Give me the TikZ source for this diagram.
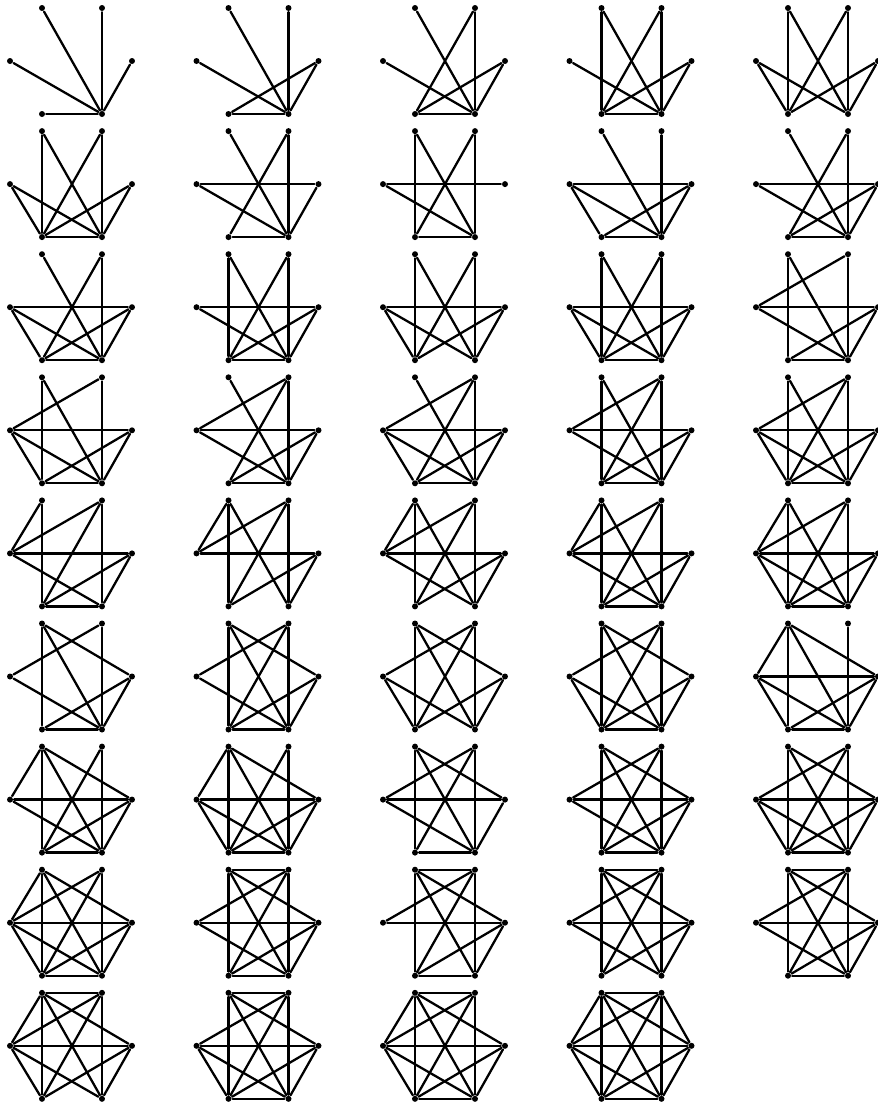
\documentclass[tikz,border=0pt]{standalone}
\begin{document}
\begin{tikzpicture}[x=0.02cm,y=-0.02cm,line width=1.3pt,line cap=round,line join=round,
  vtx/.style={circle,fill,inner sep=0pt,minimum size=0.12cm}]
\useasboundingbox (0,0) rectangle (878,1107);
\foreach \g/\edges in {
  1/{tl/br,tr/br,ml/br,mr/br,bl/br},
  2/{tl/br,tr/br,ml/br,mr/br,bl/br,mr/bl},
  3/{tl/br,tr/br,tr/bl,ml/br,mr/bl,mr/br,bl/br},
  4/{tl/bl,tl/br,tr/bl,tr/br,ml/br,mr/bl,mr/br,bl/br},
  5/{tl/bl,tl/br,tr/bl,tr/br,ml/bl,ml/br,mr/bl,mr/br},
  6/{tl/bl,tl/br,tr/bl,tr/br,ml/bl,ml/br,mr/bl,mr/br,bl/br},
  7/{tl/br,tr/bl,tr/br,ml/mr,ml/br,mr/br,bl/br},
  8/{tl/bl,tl/br,tr/bl,tr/br,ml/mr,ml/br,bl/br},
  9/{tl/br,tr/br,ml/mr,ml/bl,ml/br,mr/bl,mr/br,bl/br},
  10/{tl/br,tr/bl,tr/br,ml/mr,ml/br,mr/bl,mr/br,bl/br},
  11/{tl/br,tr/bl,tr/br,ml/mr,ml/bl,ml/br,mr/bl,mr/br,bl/br},
  12/{tl/bl,tl/br,tr/bl,tr/br,ml/mr,ml/br,mr/bl,mr/br,bl/br},
  13/{tl/bl,tl/br,tr/bl,tr/br,ml/mr,ml/bl,ml/br,mr/bl,mr/br},
  14/{tl/bl,tl/br,tr/bl,tr/br,ml/mr,ml/bl,ml/br,mr/bl,mr/br,bl/br},
  15/{tl/bl,tl/br,tr/ml,tr/br,ml/mr,ml/br,mr/bl,mr/br,bl/br},
  16/{tl/bl,tl/br,tr/ml,tr/br,ml/mr,ml/bl,ml/br,mr/bl,mr/br,bl/br},
  17/{tl/br,tr/ml,tr/bl,tr/br,ml/mr,ml/br,mr/bl,mr/br,bl/br},
  18/{tl/br,tr/ml,tr/bl,tr/br,ml/mr,ml/bl,ml/br,mr/bl,mr/br,bl/br},
  19/{tl/bl,tl/br,tr/ml,tr/bl,tr/br,ml/mr,ml/br,mr/bl,mr/br,bl/br},
  20/{tl/bl,tl/br,tr/ml,tr/bl,tr/br,ml/mr,ml/bl,ml/br,mr/bl,mr/br,bl/br},
  21/{tl/ml,tl/bl,tr/ml,tr/bl,tr/br,ml/mr,ml/br,mr/bl,mr/br,bl/br},
  22/{tl/ml,tl/bl,tl/br,tr/ml,tr/bl,tr/br,ml/mr,mr/bl,mr/br},
  23/{tl/ml,tl/bl,tl/br,tr/ml,tr/bl,tr/br,ml/mr,ml/br,mr/bl,mr/br},
  24/{tl/ml,tl/bl,tl/br,tr/ml,tr/bl,tr/br,ml/mr,ml/br,mr/bl,mr/br,bl/br},
  25/{tl/ml,tl/bl,tl/br,tr/ml,tr/bl,tr/br,ml/mr,ml/bl,ml/br,mr/bl,mr/br,bl/br},
  26/{tl/bl,tl/br,tl/mr,tr/ml,tr/br,ml/br,mr/bl,mr/br,bl/br},
  27/{tl/bl,tl/br,tl/mr,tr/ml,tr/bl,tr/br,ml/br,mr/bl,mr/br,bl/br},
  28/{tl/bl,tl/br,tl/mr,tr/ml,tr/bl,tr/br,ml/bl,ml/br,mr/bl,mr/br},
  29/{tl/bl,tl/br,tl/mr,tr/ml,tr/bl,tr/br,ml/bl,ml/br,mr/bl,mr/br,bl/br},
  30/{tl/ml,tl/bl,tl/br,tl/mr,tr/br,ml/mr,ml/bl,ml/br,mr/bl,mr/br,bl/br},
  31/{tl/ml,tl/bl,tl/br,tl/mr,tr/bl,tr/br,ml/mr,ml/br,mr/bl,mr/br,bl/br},
  32/{tl/ml,tl/bl,tl/br,tl/mr,tr/bl,tr/br,ml/mr,ml/bl,ml/br,mr/bl,mr/br,bl/br},
  33/{tl/bl,tl/br,tl/mr,tr/ml,tr/bl,tr/br,ml/mr,ml/br,mr/br,bl/br},
  34/{tl/bl,tl/br,tl/mr,tr/ml,tr/bl,tr/br,ml/mr,ml/br,mr/bl,mr/br,bl/br},
  35/{tl/bl,tl/br,tl/mr,tr/ml,tr/bl,tr/br,ml/mr,ml/bl,ml/br,mr/bl,mr/br,bl/br},
  36/{tl/ml,tl/bl,tl/br,tl/mr,tr/ml,tr/bl,tr/br,ml/mr,ml/bl,ml/br,mr/bl,mr/br,bl/br},
  37/{tl/tr,tl/bl,tl/br,tl/mr,tr/ml,tr/bl,tr/br,ml/mr,ml/br,mr/bl,mr/br,bl/br},
  38/{tl/tr,tl/bl,tl/br,tl/mr,tr/ml,tr/bl,tr/br,ml/mr,mr/bl,mr/br,bl/br},
  39/{tl/tr,tl/bl,tl/br,tl/mr,tr/ml,tr/bl,tr/br,ml/mr,ml/br,mr/bl,mr/br},
  40/{tl/tr,tl/bl,tl/br,tl/mr,tr/ml,tr/bl,tr/br,ml/mr,ml/br,mr/bl,mr/br,bl/br},
  41/{tl/tr,tl/ml,tl/bl,tl/br,tl/mr,tr/ml,tr/bl,tr/br,ml/mr,ml/bl,ml/br,mr/bl,mr/br},
  42/{tl/tr,tl/bl,tl/br,tl/mr,tr/ml,tr/bl,tr/br,ml/mr,ml/bl,ml/br,mr/bl,mr/br,bl/br},
  43/{tl/tr,tl/ml,tl/bl,tl/br,tl/mr,tr/ml,tr/bl,tr/br,ml/mr,ml/bl,ml/br,mr/bl,mr/br,bl/br},
  44/{tl/tr,tl/ml,tl/bl,tl/br,tl/mr,tr/ml,tr/mr,tr/bl,tr/br,ml/mr,ml/bl,ml/br,mr/bl,mr/br,bl/br}} {
  \pgfmathtruncatemacro\col{mod(\g-1,5)}
  \pgfmathtruncatemacro\row{(\g-1)/5}
  \pgfmathsetmacro\gx{10+186.5*\col}
  \pgfmathsetmacro\gy{8+123.1*\row}
  \node[vtx] (g\g-tl) at (\gx+32,\gy) {};
  \node[vtx] (g\g-tr) at (\gx+92,\gy) {};
  \node[vtx] (g\g-ml) at (\gx,\gy+53) {};
  \node[vtx] (g\g-mr) at (\gx+122,\gy+53) {};
  \node[vtx] (g\g-bl) at (\gx+32,\gy+106) {};
  \node[vtx] (g\g-br) at (\gx+92,\gy+106) {};
  \foreach \u/\v in \edges
    \draw (g\g-\u) -- (g\g-\v);
}
\end{tikzpicture}
\end{document}
